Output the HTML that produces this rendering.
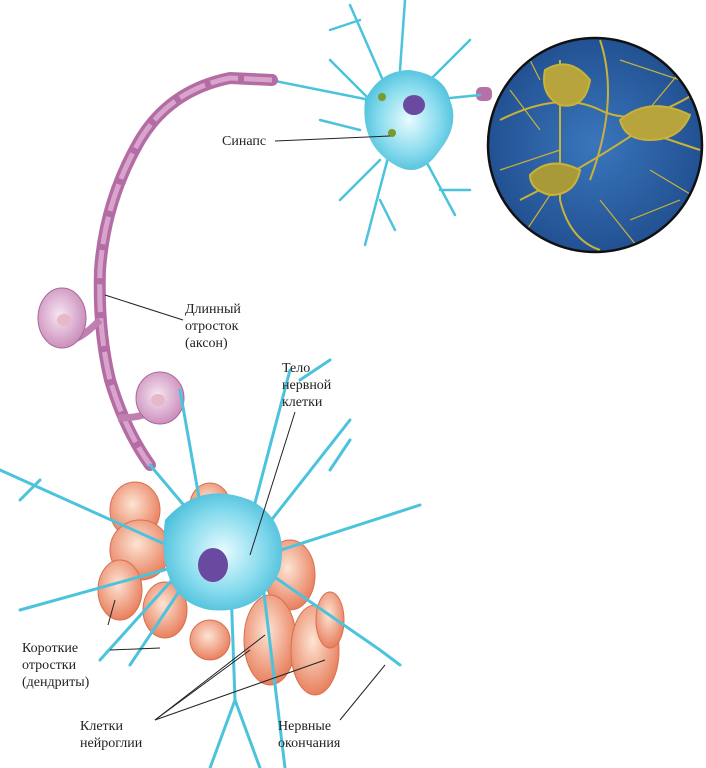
<!DOCTYPE html>
<html><head><meta charset="utf-8"><style>
html,body{margin:0;padding:0;background:#fff;}
svg{display:block}
text{font-family:"Liberation Serif","DejaVu Serif",serif;font-size:14px;fill:#222}
</style></head><body>
<svg width="706" height="768" viewBox="0 0 706 768">
<defs>
<radialGradient id="cy" cx="50%" cy="50%" r="60%"><stop offset="0" stop-color="#e8fbff"/><stop offset="0.55" stop-color="#8adcee"/><stop offset="1" stop-color="#3cb8d6"/></radialGradient>
<radialGradient id="or" cx="45%" cy="40%" r="60%"><stop offset="0" stop-color="#fde4d4"/><stop offset="1" stop-color="#e8805e"/></radialGradient>
<radialGradient id="pu" cx="45%" cy="45%" r="60%"><stop offset="0" stop-color="#f7e6f2"/><stop offset="1" stop-color="#c888b8"/></radialGradient>
<radialGradient id="bl" cx="50%" cy="50%" r="60%"><stop offset="0" stop-color="#3a76bc"/><stop offset="1" stop-color="#1d4a8a"/></radialGradient>
<clipPath id="cc"><circle cx="595" cy="145" r="106"/></clipPath>
</defs>
<!-- circle micrograph -->
<circle cx="595" cy="145" r="107" fill="url(#bl)"/>
<g clip-path="url(#cc)" stroke="#c9b23a" fill="none" stroke-width="2">
<path d="M500 120 Q560 90 600 110 T700 90"/><path d="M560 60 L560 200 Q570 240 600 250"/><path d="M520 200 Q580 170 640 130 L700 150"/><path d="M600 40 Q620 100 590 180"/>
<path d="M540 80 L520 40M640 120 L690 60M560 180 L520 240M630 220 L680 200M500 170 L560 150M600 200 L640 250M620 60 L680 80M510 90 L540 130M650 170 L700 200" stroke-width="1.2"/>
<path d="M545 70 Q570 55 590 80 Q585 110 560 105 Q540 95 545 70Z" fill="#b8a43c"/>
<path d="M620 120 Q650 95 690 115 Q680 140 650 140 Q625 140 620 120Z" fill="#b8a43c"/>
<path d="M530 175 Q550 155 580 170 Q575 195 550 195 Q530 190 530 175Z" fill="#a89a38"/>
</g>
<circle cx="595" cy="145" r="107" fill="none" stroke="#111" stroke-width="2.5"/>
<rect x="476" y="87" width="16" height="14" rx="5" fill="#b672a8"/>
<!-- upper neuron dendrites -->
<g stroke="#4cc3dc" stroke-width="2.5" fill="none" stroke-linecap="round">
<path d="M270 80 L370 100M350 5 L385 85M330 60 L370 100M390 150 L365 245M380 160 L340 200M420 150 L455 215M430 100 L480 95M430 80 L470 40M360 130 L320 120M400 70 L405 0M360 20 L330 30M380 200 L395 230M440 190 L470 190"/>
</g>
<path d="M365 100 Q380 70 410 70 Q445 75 450 100 Q460 125 440 150 Q420 180 395 165 Q360 145 365 100Z" fill="url(#cy)"/>
<ellipse cx="414" cy="105" rx="11" ry="10" fill="#6a4aa0"/>
<circle cx="382" cy="97" r="4" fill="#7a9a30"/><circle cx="392" cy="133" r="4" fill="#7a9a30"/>
<!-- axon -->
<path d="M272 80 L230 78 Q170 90 140 140 Q105 200 100 270 Q98 330 110 380 Q125 430 150 465" fill="none" stroke="#b46ca4" stroke-width="12" stroke-linecap="round"/>
<path d="M272 80 L230 78 Q170 90 140 140 Q105 200 100 270 Q98 330 110 380 Q125 430 150 465" fill="none" stroke="#d9a4cc" stroke-width="5" stroke-dasharray="28 6"/>
<path d="M100 320 Q80 340 70 340" stroke="#c07fb0" stroke-width="7" fill="none"/>
<path d="M118 418 Q140 418 150 412" stroke="#c07fb0" stroke-width="7" fill="none"/>
<ellipse cx="62" cy="318" rx="24" ry="30" fill="url(#pu)" stroke="#a86a98"/>
<ellipse cx="160" cy="398" rx="24" ry="26" fill="url(#pu)" stroke="#a86a98"/>
<ellipse cx="64" cy="320" rx="7" ry="6" fill="#e6b8c8"/><ellipse cx="158" cy="400" rx="7" ry="6" fill="#e6b8c8"/>
<!-- glia -->
<g fill="url(#or)" stroke="#d87050">
<ellipse cx="135" cy="510" rx="25" ry="28"/><ellipse cx="210" cy="505" rx="20" ry="22"/><ellipse cx="140" cy="550" rx="30" ry="30"/>
<ellipse cx="120" cy="590" rx="22" ry="30"/><ellipse cx="165" cy="610" rx="22" ry="28"/><ellipse cx="210" cy="640" rx="20" ry="20"/>
<ellipse cx="290" cy="575" rx="25" ry="35"/><ellipse cx="270" cy="640" rx="26" ry="45"/><ellipse cx="315" cy="650" rx="24" ry="45"/>
<ellipse cx="330" cy="620" rx="14" ry="28"/>
</g>
<!-- lower neuron -->
<g stroke="#4cc3dc" stroke-width="3" fill="none" stroke-linecap="round">
<path d="M200 560 L0 470M200 560 L20 610M200 560 L130 665M230 560 L235 700 L210 768M235 700 L260 768M240 560 L290 370M240 560 L350 420M250 560 L420 505M250 560 L380 650M230 560 L150 465M190 560 L100 660M210 560 L180 390M260 560 L285 768M330 470 L350 440M300 380 L330 360M40 480 L20 500M380 650 L400 665"/>
</g>
<path d="M165 520 Q200 480 250 500 Q290 520 280 570 Q260 615 210 610 Q155 600 165 520Z" fill="url(#cy)"/>
<ellipse cx="213" cy="565" rx="15" ry="17" fill="#6a4aa0"/>
<!-- leaders -->
<g stroke="#222" stroke-width="1" fill="none">
<line x1="275" y1="141" x2="390" y2="136"/>
<line x1="183" y1="320" x2="105" y2="295"/>
<line x1="295" y1="412" x2="250" y2="555"/>
<path d="M108 625 L115 600M110 650 L160 648"/>
<line x1="155" y1="720" x2="265" y2="635"/><line x1="155" y1="720" x2="325" y2="660"/><line x1="155" y1="720" x2="250" y2="650"/>
<line x1="340" y1="720" x2="385" y2="665"/>
</g>
<text x="222" y="145">Синапс</text>
<text x="185" y="313">Длинный</text><text x="185" y="330">отросток</text><text x="185" y="347">(аксон)</text>
<text x="282" y="372">Тело</text><text x="282" y="389">нервной</text><text x="282" y="406">клетки</text>
<text x="22" y="652">Короткие</text><text x="22" y="669">отростки</text><text x="22" y="686">(дендриты)</text>
<text x="80" y="730">Клетки</text><text x="80" y="747">нейроглии</text>
<text x="278" y="730">Нервные</text><text x="278" y="747">окончания</text>
</svg>
</body></html>
